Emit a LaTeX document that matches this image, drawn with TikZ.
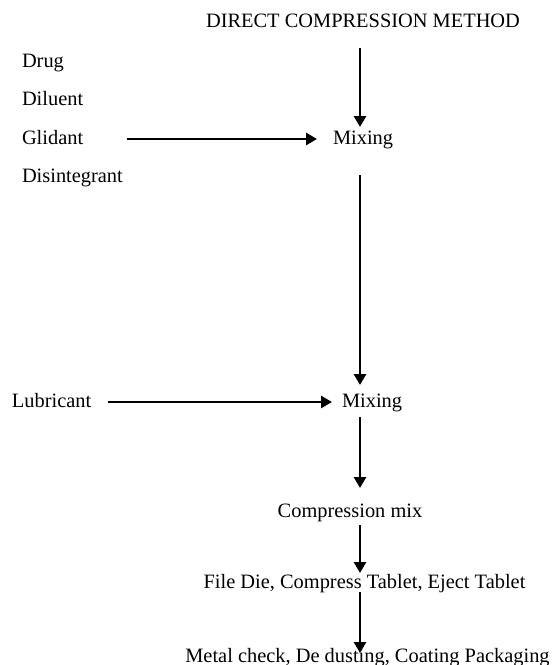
\documentclass[tikz,border=0pt]{standalone}
\usepackage{fontspec}
\setmainfont{Liberation Serif}
\usetikzlibrary{positioning}
\usetikzlibrary{arrows.meta}
\tikzset{
    mytext/.style = {inner sep=0pt, outer sep=0pt, font=\fontsize{20.4}{24}\selectfont},
    mytextl/.style = {mytext, anchor=base west},
    mytextc/.style = {mytext, anchor=base},
    edgen/.style = {-{Triangle[length=11pt,width=12pt]}, line width=2.7pt, black},
}
\begin{document}
\begin{tikzpicture}[x=1pt,y=-1pt]
\useasboundingbox (0,0) rectangle (552,665);
\node[mytextc] at (363,27) (title) {DIRECT COMPRESSION METHOD};
\node[mytextl] at (22,67) (drug) {Drug};
\node[mytextl] at (22,105) (diluent) {Diluent};
\node[mytextl] at (22,144) (glidant) {Glidant};
\node[mytextl] at (22,182) (disint) {Disintegrant};
\node[mytextl] at (333,144) (mixa) {Mixing};
\node[mytextl] at (12,407) (lubricant) {Lubricant};
\node[mytextl] at (342,407) (mixb) {Mixing};
\node[mytextc] at (350,517) (compmix) {Compression mix};
\node[mytextc] at (364.5,588) (press) {File Die, Compress Tablet, Eject Tablet};
\node[mytextc] at (367.5,662) (finish) {Metal check, De dusting, Coating Packaging};
%
\draw[edgen] ([xshift=-3pt,yshift=-21pt]title.base) -- ([xshift=27pt,yshift=17pt]mixa.base west);
\draw[edgen] ([xshift=44pt,yshift=5pt]glidant.base east) -- ([xshift=-16pt,yshift=5pt]mixa.base west);
\draw[edgen] ([xshift=27pt,yshift=-31pt]mixa.base west) -- ([xshift=18pt,yshift=22pt]mixb.base west);
\draw[edgen] ([xshift=17pt,yshift=5pt]lubricant.base east) -- ([xshift=-10pt,yshift=5pt]mixb.base west);
\draw[edgen] ([xshift=18pt,yshift=-10pt]mixb.base west) -- ([xshift=10pt,yshift=29pt]compmix.base);
\draw[edgen] ([xshift=10pt,yshift=-8pt]compmix.base) -- ([xshift=-4.5pt,yshift=15pt]press.base);
\draw[edgen] ([xshift=-4.5pt,yshift=-4pt]press.base) -- ([xshift=-7.5pt,yshift=9pt]finish.base);

\end{tikzpicture}
\end{document}
